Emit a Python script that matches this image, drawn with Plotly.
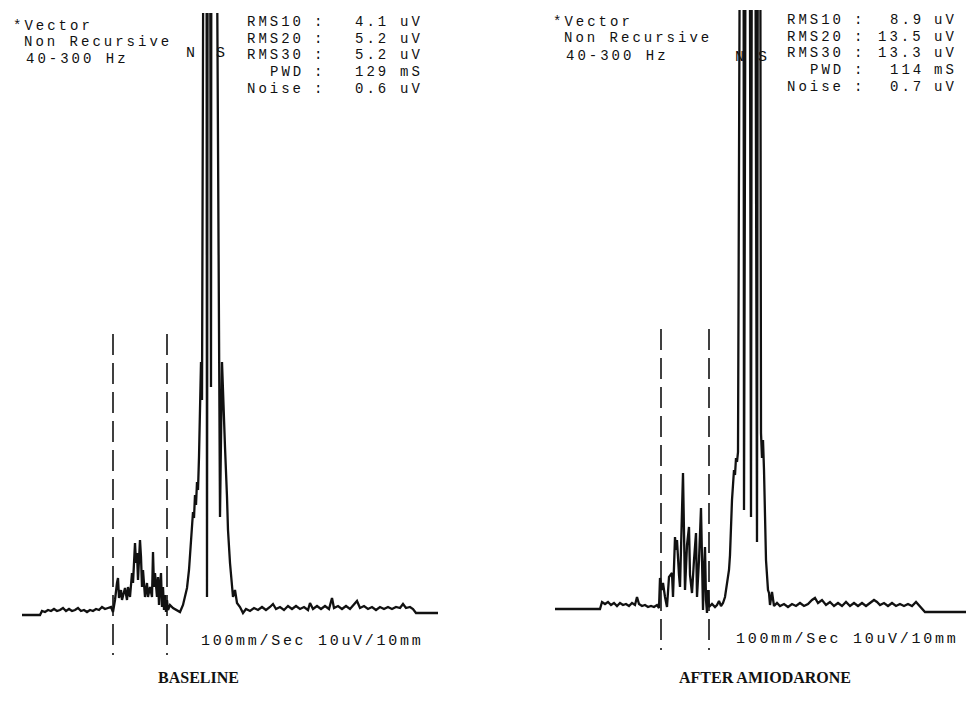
import plotly.graph_objects as go

W, H = 966, 711

# Filtered vector magnitude (40-300 Hz), baseline recording: time (ms), amplitude (uV)
base_t = [0, 18, 20, 23, 26, 29, 32, 35, 38, 41, 44, 47, 50, 53, 56, 59, 62, 65, 68, 71,
          74, 77, 80, 83, 86, 89, 91,
          93, 95, 96, 97, 99, 100, 101, 103, 105, 106, 108, 110, 111, 113, 114, 115, 116,
          118, 119, 120, 121, 123, 125, 126, 128, 130, 131, 132, 133, 135, 136, 137, 138,
          139, 140, 141, 142, 143, 144, 145, 146, 148, 151, 155, 158, 161,
          163, 165, 167, 169, 170, 171, 172, 173, 174, 175, 176, 177, 179, 180, 184, 185,
          186.5, 189, 190, 198, 200, 201, 202, 203, 205, 206, 208, 210, 211, 213, 215, 218, 221,
          224, 228, 232, 236, 240, 244, 248, 251, 254, 258, 262, 266, 270, 274, 278, 282,
          286, 288, 291, 295, 299, 303, 307, 310, 312, 316, 320, 324, 328, 332, 335, 338,
          342, 346, 350, 354, 358, 362, 366, 370, 374, 378, 381, 384, 388, 391, 394, 416]
base_uv = [-0.25, -0.25, 0.75, 0.5, 1.0, 0.75, 1.25, 0.75, 1.0, 1.5, 0.75, 1.25, 0.75, 1.0,
           1.5, 0.75, 1.0, 0.5, 1.0, 0.75, 1.25, 1.0, 1.75, 1.25, 1.5, 1.75, 0.5,
           3.5, 7.75, 9.0, 4.0, 6.0, 3.5, 4.75, 6.5, 3.5, 6.75, 4.25, 10.25, 7.75, 17.75,
           12.75, 15.25, 8.5, 18.5, 14.25, 6.75, 11.0, 4.25, 7.75, 4.25, 6.75, 4.25, 15.5,
           6.75, 10.25, 4.25, 9.25, 2.25, 7.25, 10.25, 1.75, 6.75, 1.0, 4.75, 0.5, 3.5, 1.0,
           2.25, 1.5, 1.0, 0.5, 2.25,
           4.25, 6.5, 11.0, 18.5, 22.75, 25.5, 24.0, 29.75, 27.25, 33.0, 31.0, 39.25, 63.0,
           53.5, 400.0, 4.25, 400.0, 56.75, 400.0, 24.25, 63.0, 54.25, 46.0, 41.75, 29.25,
           21.0, 12.75, 6.0, 4.25, 6.0, 2.75, 1.75, 0.25,
           1.25, 0.75, 1.5, 1.0, 1.75, 1.0, 1.75, 2.5, 1.25, 1.75, 1.0, 2.0, 1.25, 2.0, 1.25,
           1.75, 1.0, 2.75, 1.25, 2.0, 1.25, 2.0, 1.25, 4.0, 1.5, 2.0, 1.25, 2.0, 1.25, 2.25,
           3.25, 1.5, 2.0, 1.25, 1.75, 1.0, 1.75, 1.25, 1.75, 1.25, 1.75, 1.5, 2.5, 1.5,
           1.75, 1.25, 0.25, 0.25]

# Same lead after amiodarone
amio_t = [1, 46, 48, 51, 54, 57, 60, 63, 66, 69, 72, 75, 78, 81, 83, 85, 88, 91, 94, 97,
          100, 103, 105,
          106, 108, 109, 111, 113, 115, 118, 119, 121, 122, 123, 125, 126, 129, 131, 133,
          135, 136, 138, 140, 142, 143, 145, 147, 148, 149, 150, 151, 152, 153, 154, 155,
          158, 161, 163, 165, 167, 169, 171, 173, 175, 176, 177, 178, 179, 180, 181, 182,
          183, 184, 189, 190, 194, 197, 199, 203, 205, 207, 208, 209, 210, 211, 212, 214,
          215, 216, 218, 220,
          223, 226, 230, 234, 238, 242, 246, 250, 254, 258, 261, 264, 268, 272, 276, 280,
          284, 288, 292, 296, 300, 304, 308, 312, 316, 320, 323, 326, 330, 334, 338, 342,
          346, 350, 354, 358, 362, 364, 367, 371, 412]
amio_uv = [0.0, 0.0, 1.75, 1.25, 1.75, 1.0, 1.5, 0.75, 1.5, 1.0, 1.25, 0.75, 1.5, 1.0, 3.0,
           1.25, 0.75, 1.0, 0.5, 0.75, 0.5, 1.0, 0.25,
           7.75, 4.75, 6.5, 3.0, 0.5, 8.0, 9.0, 3.0, 18.0, 14.75, 17.25, 8.5, 5.5, 34.0,
           4.75, 16.0, 20.5, 8.5, 4.0, 12.25, 19.0, 3.0, 12.25, 25.25, 7.25, -0.25, 9.75,
           15.5, 2.25, -1.0, 4.75, 0.5,
           1.25, 0.5, 1.0, 2.0, 0.75, 1.5, 3.0, 6.0, 9.75, 13.5, 22.25, 27.25, 31.0, 34.75,
           33.5, 37.75, 36.75, 39.25, 400.0, 24.75, 400.0, 23.0, 400.0, 16.75, 400.0, 44.0,
           37.75, 42.25, 34.75, 19.0, 12.25, 4.75, 4.0, 1.0, 4.25, 0.75,
           1.5, 0.75, 1.25, 0.5, 1.25, 0.75, 1.5, 0.75, 1.25, 2.25, 2.75, 1.5, 2.25, 1.0,
           1.75, 0.75, 1.5, 0.75, 1.75, 0.75, 1.5, 0.75, 1.5, 0.75, 1.5, 2.25, 1.75, 1.0,
           1.5, 0.75, 1.5, 0.75, 1.25, 0.75, 1.25, 0.75, 1.75, 1.25, 0.5, -0.75, -0.75]

# Dashed onset / offset markers (ms) and their vertical extent (uV, drawn top to bottom)
base_marks = [91, 145]
amio_marks = [107, 155]
mark_span = [70.0, -10.25]

header_lines = ["*Vector", "Non Recursive", "40-300 Hz"]
row_labels = ["RMS10", "RMS20", "RMS30", "PWD", "Noise"]
base_values = ["4.1", "5.2", "5.2", "129", "0.6"]
amio_values = ["8.9", "13.5", "13.3", "114", "0.7"]
row_units = ["uV", "uV", "uV", "mS", "uV"]
scale_note = "100mm/Sec 10uV/10mm"
captions = ["BASELINE", "AFTER AMIODARONE"]

INK = "#111111"
PLOTTER = "Liberation Mono"


def fx(px):
    return px / W


def fy(py):
    return 1 - py / H


def plot_text(text, px, py, anchor="left", size=14, spacing=3.0):
    return dict(
        text=f'<span style="letter-spacing:{spacing}px">{text}</span>',
        x=fx(px), y=fy(py), xref="paper", yref="paper",
        xanchor=anchor, yanchor="middle", showarrow=False, borderpad=0,
        font=dict(family=PLOTTER, size=size, color=INK),
    )


fig = go.Figure()

panels = [
    dict(t=base_t, uv=base_uv, marks=base_marks, xa="x", ya="y"),
    dict(t=amio_t, uv=amio_uv, marks=amio_marks, xa="x2", ya="y2"),
]
for p in panels:
    fig.add_trace(go.Scatter(
        x=p["t"], y=p["uv"], mode="lines", xaxis=p["xa"], yaxis=p["ya"],
        line=dict(color=INK, width=2.3), hoverinfo="skip", showlegend=False,
    ))
    for m in p["marks"]:
        fig.add_trace(go.Scatter(
            x=[m, m], y=mark_span, mode="lines", xaxis=p["xa"], yaxis=p["ya"],
            line=dict(color=INK, width=1.6, dash="21px,8px"),
            hoverinfo="skip", showlegend=False,
        ))

ann = []
# Header blocks
for (px, py), line in zip([(12, 26), (23, 42.5), (25, 59)], header_lines):
    ann.append(plot_text(line, px, py))
for (px, py), line in zip([(552, 22), (563, 38.5), (565, 55.5)], header_lines):
    ann.append(plot_text(line, px, py))

# Lead markers
ann += [plot_text("N", 190, 53, "center", size=15, spacing=0),
        plot_text("S", 220, 53, "center", size=15, spacing=0),
        plot_text("N", 739, 57, "center", size=15, spacing=0),
        plot_text("S", 762, 57, "center", size=15, spacing=0)]

# Measurement tables
tables = [
    dict(values=base_values, lab=305, col=318, val=390, unit=399, y0=22.0),
    dict(values=amio_values, lab=845, col=858, val=925, unit=933, y0=20.0),
]
for tb in tables:
    for i, (lab, val, unit) in enumerate(zip(row_labels, tb["values"], row_units)):
        py = tb["y0"] + i * 16.7
        ann.append(plot_text(lab, tb["lab"], py, "right"))
        ann.append(plot_text(":", tb["col"], py, "center", spacing=0))
        ann.append(plot_text(val, tb["val"], py, "right"))
        ann.append(plot_text(unit, tb["unit"], py, "left"))

# Recording scale notes
ann.append(plot_text(scale_note, 200, 641, "left", size=15, spacing=2.7))
ann.append(plot_text(scale_note, 735, 639, "left", size=15, spacing=2.7))

# Panel captions
for px, cap in zip([198, 765], captions):
    ann.append(dict(
        text=f"<b>{cap}</b>", x=fx(px), y=fy(677), xref="paper", yref="paper",
        xanchor="center", yanchor="middle", showarrow=False,
        font=dict(family="Liberation Serif", size=16, color=INK),
    ))

hidden = dict(visible=False, showgrid=False, zeroline=False, fixedrange=True)
fig.update_layout(
    width=W, height=H,
    margin=dict(l=0, r=0, t=0, b=0),
    paper_bgcolor="white", plot_bgcolor="white",
    showlegend=False,
    xaxis=dict(domain=[0, 483 / W], range=[-22, 461], **hidden),
    xaxis2=dict(domain=[483 / W, 1], range=[-71, 412], anchor="y2", **hidden),
    yaxis=dict(domain=[0, 1 - 13 / H], range=[-24.25, 150.25], **hidden),
    yaxis2=dict(domain=[0, 1 - 10 / H], range=[-25.5, 149.75], anchor="x2", **hidden),
    annotations=ann,
)

fig.write_html("out.html")
